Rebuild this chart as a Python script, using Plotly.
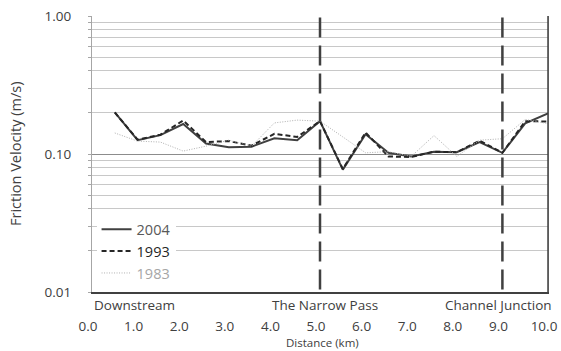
import plotly.graph_objects as go

# ---- data ----
distance_km = [0.5, 1.0, 1.5, 2.0, 2.5, 3.0, 3.5, 4.0, 4.5, 5.0,
               5.5, 6.0, 6.5, 7.0, 7.5, 8.0, 8.5, 9.0, 9.5, 10.0]
v2004 = [0.200, 0.126, 0.137, 0.165, 0.119, 0.112, 0.113, 0.130, 0.126, 0.173,
         0.077, 0.139, 0.102, 0.096, 0.104, 0.103, 0.122, 0.102, 0.167, 0.197]
v1993 = [0.200, 0.127, 0.138, 0.175, 0.122, 0.124, 0.115, 0.140, 0.133, 0.173,
         0.078, 0.143, 0.096, 0.095, 0.104, 0.103, 0.125, 0.102, 0.173, 0.172]
v1983 = [0.142, 0.124, 0.122, 0.105, 0.114, 0.126, 0.114, 0.168, 0.176, 0.173,
         0.133, 0.102, 0.104, 0.096, 0.136, 0.096, 0.126, 0.129, 0.178, 0.166]
series_names = ["2004", "1993", "1983"]
x_ticks = [0, 1, 2, 3, 4, 5, 6, 7, 8, 9, 10]
x_tick_labels = ["0.0", "1.0", "2.0", "3.0", "4.0", "5.0", "6.0", "7.0", "8.0", "9.0", "10.0"]
landmark_km = [5.0, 9.0]
place_labels = ["Downstream", "The Narrow Pass", "Channel Junction"]

FONT = "Open Sans"
fig = go.Figure()

fig.add_trace(go.Scatter(x=distance_km, y=v2004, mode="lines",
                         name="<span style='color:#595959'>%s</span>" % series_names[0],
                         line=dict(color="#404040", width=2)))
fig.add_trace(go.Scatter(x=distance_km, y=v1993, mode="lines",
                         name="<span style='color:#262626'>%s</span>" % series_names[1],
                         line=dict(color="#262626", width=2, dash="5px,3px")))
fig.add_trace(go.Scatter(x=distance_km, y=v1983, mode="lines",
                         name="<span style='color:#a6a6a6'>%s</span>" % series_names[2],
                         line=dict(color="#b0b0b0", width=1, dash="1px,1.5px")))

# vertical dashed landmark lines
for xv in landmark_km:
    fig.add_shape(type="line", xref="x", yref="paper", x0=xv, x1=xv, y0=0.995, y1=0,
                  line=dict(color="#404040", width=2.5, dash="20px,8px"), layer="above")

# right border (dark)
fig.add_shape(type="line", xref="paper", yref="paper", x0=1, x1=1, y0=0, y1=1,
              line=dict(color="#404040", width=1.5))

# place labels
fig.add_annotation(x=0, y=0, xref="x", yref="paper", text=place_labels[0],
                   showarrow=False, xanchor="left", yanchor="middle", yshift=-13,
                   font=dict(family=FONT, size=13.5, color="#404040"))
fig.add_annotation(x=landmark_km[0], y=0, xref="x", yref="paper", text=place_labels[1],
                   showarrow=False, xanchor="center", yanchor="middle", yshift=-13, xshift=5,
                   font=dict(family=FONT, size=13.5, color="#404040"))
fig.add_annotation(x=landmark_km[1], y=0, xref="x", yref="paper", text=place_labels[2],
                   showarrow=False, xanchor="center", yanchor="middle", yshift=-13, xshift=-4,
                   font=dict(family=FONT, size=13.5, color="#404040"))

# axis titles
fig.add_annotation(x=0.5, y=0, xref="paper", yref="paper", text="Distance (km)",
                   showarrow=False, xanchor="center", yanchor="middle", yshift=-50, xshift=2,
                   font=dict(family=FONT, size=11.5, color="#404040"))
fig.add_annotation(x=0, y=0.5, xref="paper", yref="paper", text="Friction Velocity (m/s)",
                   showarrow=False, xanchor="center", yanchor="middle", xshift=-77,
                   textangle=-90, font=dict(family=FONT, size=14.5, color="#404040"))

fig.update_layout(
    width=561, height=351,
    margin=dict(l=92, r=13, t=16, b=59),
    paper_bgcolor="white", plot_bgcolor="white",
    font=dict(family=FONT, size=13.5, color="#404040"),
    showlegend=True,
    legend=dict(x=0.01, y=0.285, xanchor="left", yanchor="top",
                bgcolor="white", font=dict(family=FONT, size=14.5, color="#404040"),
                borderwidth=0),
)
fig.update_xaxes(range=[0, 10], tickvals=x_ticks, ticktext=x_tick_labels,
                 automargin=False,
                 showgrid=False, zeroline=False, showline=True, linecolor="#404040",
                 linewidth=1.5, ticks="", ticklabelstandoff=21, ticklabelshift=-4,
                 tickfont=dict(family=FONT, size=13.5, color="#404040"))
fig.update_yaxes(type="log", range=[-2, 0], dtick=1, tickformat=".2f",
                 automargin=False,
                 showgrid=True, gridcolor="#8c8c8c", gridwidth=1.2,
                 showline=True, linecolor="#a6a6a6", linewidth=1.2, mirror=True,
                 ticks="outside", ticklen=3, tickcolor="#a6a6a6",
                 ticklabelstandoff=14,
                 minor=dict(dtick="D1", showgrid=True, gridcolor="#c8c8c8", gridwidth=1.2,
                            ticks="outside", ticklen=3, tickcolor="#a6a6a6"),
                 tickfont=dict(family=FONT, size=13.5, color="#404040"))

fig.write_html("out.html")
